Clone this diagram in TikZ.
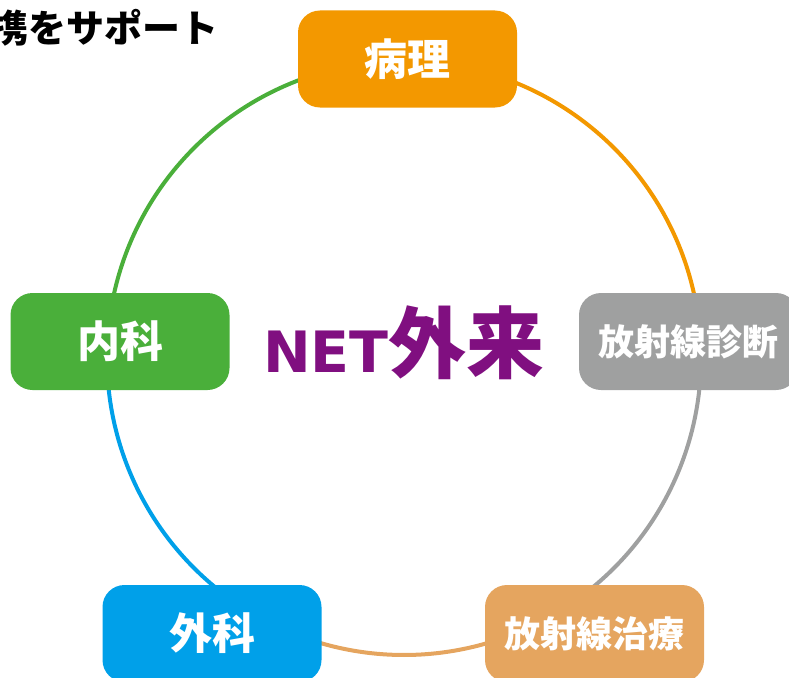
\documentclass[tikz,border=0pt]{standalone}
\usepackage{fontspec}
\newfontfamily\jp{Noto Sans CJK JP}
\newfontfamily\dv{DejaVu Sans}
\definecolor{cOra}{HTML}{F39800}
\definecolor{cGray}{HTML}{9FA0A0}
\definecolor{cTan}{HTML}{E5A55F}
\definecolor{cBlue}{HTML}{00A0E9}
\definecolor{cGreen}{HTML}{4AAF3A}
\definecolor{cPurp}{HTML}{800F80}
\begin{document}
\begin{tikzpicture}[x=1pt,y=1pt,
  box/.style={rounded corners=22pt, minimum width=219pt, minimum height=97pt,
    inner sep=0pt, text=white, font=\jp\bfseries\fontsize{43}{43}\selectfont},
  boxsmall/.style={box, font=\jp\bfseries\fontsize{36}{36}\selectfont},
  ring/.style={line width=4pt}]
\clip (0,0) rectangle (789,-677);
\useasboundingbox (0,0) rectangle (789,-677);
\coordinate (c) at (404,-358);
% ring arcs
\draw[ring, cOra]   (c) ++(90:297)    arc[start angle=90,    end angle=3.4,    radius=297];
\draw[ring, cGray]  (c) ++(3.4:297)   arc[start angle=3.4,   end angle=-55,    radius=297];
\draw[ring, cTan]   (c) ++(-55:297)   arc[start angle=-55,   end angle=-125,   radius=297];
\draw[ring, cBlue]  (c) ++(-125:297)  arc[start angle=-125,  end angle=-183.4, radius=297];
\draw[ring, cGreen] (c) ++(176.6:297) arc[start angle=176.6, end angle=90,     radius=297];
% boxes
\node[box, fill=cOra]        (byouri) at (407.5,-59)    {病理};
\node[boxsmall, fill=cGray]  (shindan) at (688.5,-341.5) {放射線診断};
\node[boxsmall, fill=cTan]   (chiryo) at (594.5,-633.5) {放射線治療};
\node[box, fill=cBlue]       (geka) at (212,-633.5)     {外科};
\node[box, fill=cGreen]      (naika) at (120,-341.5)    {内科};
% center title
\node[anchor=base, inner sep=0pt, text=cPurp] (title) at (404,-372)
  {{\dv\bfseries\fontsize{57}{57}\selectfont NET}{\jp\bfseries\fontsize{78}{78}\selectfont 外来}};
% top-left cropped caption
\node[anchor=east, inner sep=0pt, font=\jp\bfseries\fontsize{38}{38}\selectfont] (cap) at (219,-28) {携をサポート};
\end{tikzpicture}
\end{document}
